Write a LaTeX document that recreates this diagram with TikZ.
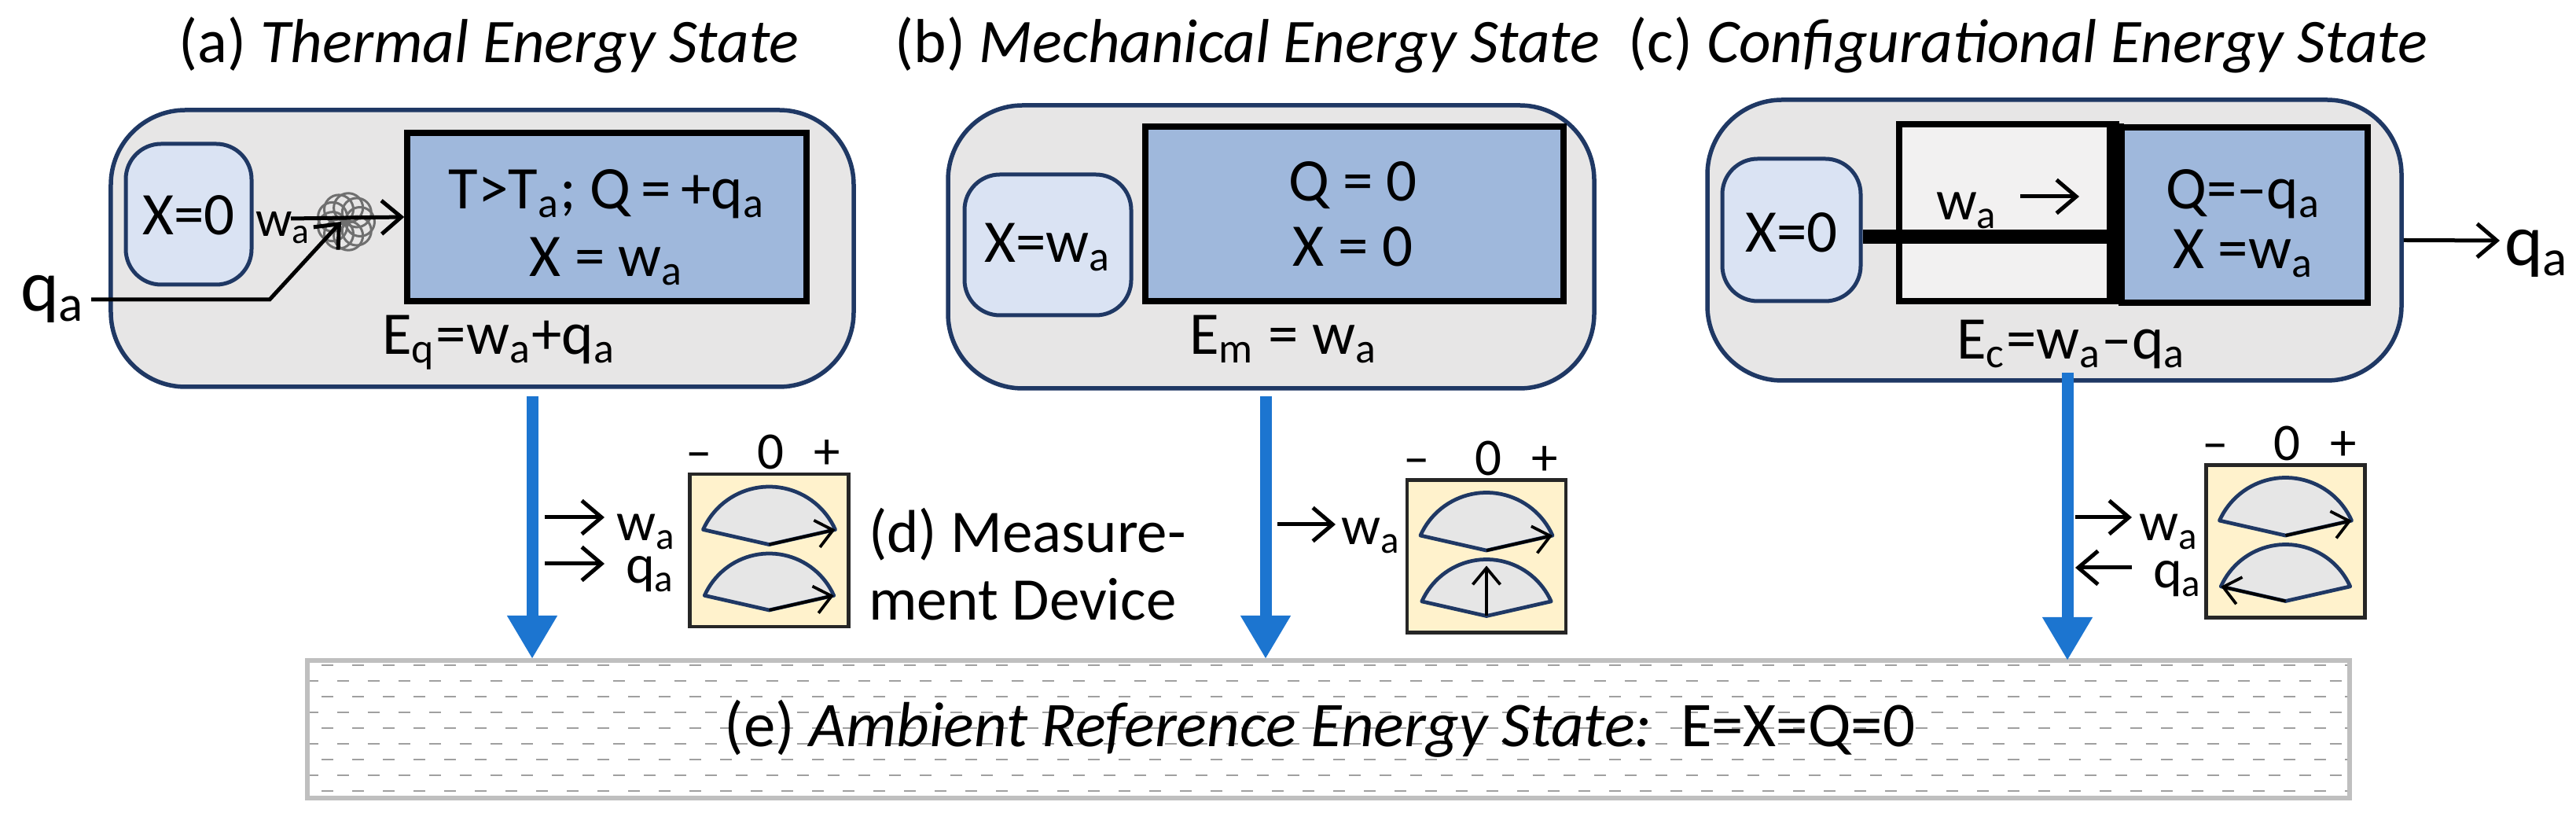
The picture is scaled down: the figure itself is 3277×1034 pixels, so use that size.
\documentclass[tikz,border=0pt]{standalone}
\usepackage{fontspec}
\setmainfont{Carlito}
\usetikzlibrary{arrows.meta}
\definecolor{navy}{HTML}{1F3864}
\definecolor{boxgray}{HTML}{E7E6E6}
\definecolor{lightblue}{HTML}{DAE3F3}
\definecolor{midblue}{HTML}{9FB8DC}
\definecolor{arrowblue}{HTML}{1C75D0}
\definecolor{gaugeyellow}{HTML}{FFF2CC}
\definecolor{gaugeborder}{HTML}{262626}
\definecolor{dialgray}{HTML}{E6E6E6}
\definecolor{bargray}{HTML}{BFBFBF}
\definecolor{dashgray}{HTML}{A0A0A0}
\definecolor{coilgray}{HTML}{6F6F6F}
\newcommand\lsub[1]{\textsubscript{#1}}
% fan-shaped dial: #1 name, #2 x, #3 arc-centre y, #4 radius
\newcommand\fan[4]{%
  \coordinate (#1-apex) at ({#2},{#3-0.2*#4});
  \coordinate (#1-right) at ({#2+0.9135*#4},{#3-0.4067*#4});
  \coordinate (#1-left) at ({#2-0.9135*#4},{#3-0.4067*#4});
  \coordinate (#1-top) at ({#2},{#3-#4+8});
  \draw[dialshape] (#1-apex) -- plot[domain=24:156,samples=40] ({#2+#4*cos(\x)},{#3-#4*sin(\x)}) -- cycle;
}
% gauge: #1 name, #2 x, #3 y (centre)
\newcommand\gauge[3]{%
  \node[gaugebox] (#1) at (#2,#3) {};
  \node[scalelabel] (#1-minus) at ({#2-89},{#3-103}) {–};
  \node[scalelabel] (#1-zero) at ({#2+2},{#3-103}) {0};
  \node[scalelabel] (#1-plus) at ({#2+74},{#3-103}) {+};
  \fan{#1-u}{#2}{#3+11}{92}
  \fan{#1-l}{#2}{#3+94}{90}
}
\begin{document}
\begin{tikzpicture}[x=0.2pt,y=-0.2pt,
  outerbox/.style={draw=navy,line width=1.1pt,fill=boxgray,rounded corners=19pt,inner sep=0pt},
  smallbox/.style={draw=navy,line width=1pt,fill=lightblue,rounded corners=9pt,inner sep=0pt},
  statebox/.style={draw=black,line width=1.5pt,fill=midblue,inner sep=0pt},
  cylbox/.style={draw=black,line width=1.5pt,fill=boxgray!55!white,inner sep=0pt},
  gaugebox/.style={draw=gaugeborder,line width=0.9pt,fill=gaugeyellow,minimum width=40.4pt,minimum height=38.8pt,inner sep=0pt},
  barbox/.style={draw=bargray,line width=1.1pt,fill=white,inner sep=0pt},
  titletext/.style={font=\fontsize{15.8pt}{18pt}\selectfont,anchor=base,inner sep=0pt},
  boxtext/.style={font=\fontsize{15.4pt}{17pt}\selectfont,anchor=base,inner sep=0pt},
  sidelabel/.style={font=\fontsize{14pt}{16pt}\selectfont,anchor=base west,inner sep=0pt},
  smalllabel/.style={font=\fontsize{13pt}{15pt}\selectfont,anchor=base west,inner sep=0pt},
  bigq/.style={font=\fontsize{18.6pt}{20pt}\selectfont,anchor=base west,inner sep=0pt},
  scalelabel/.style={font=\fontsize{13.4pt}{15pt}\selectfont,anchor=base,inner sep=0pt},
  dtext/.style={font=\fontsize{15.4pt}{17pt}\selectfont,anchor=base west,inner sep=0pt},
  etext/.style={font=\fontsize{16.2pt}{18pt}\selectfont,anchor=base,inner sep=0pt},
  flowarrow/.style={draw=arrowblue,line width=3pt,-{Triangle[width=12pt,length=11pt]}},
  thinarrow/.style={draw=black,line width=1pt,-{Straight Barb[length=5pt,width=8.5pt]}},
  pointer/.style={draw=black,line width=0.75pt,-{Straight Barb[length=4.2pt,width=7pt]}},
  dialshape/.style={draw=navy,line width=0.95pt,fill=dialgray,line join=round},
  dashrow/.style={draw=dashgray,line width=0.5pt,dash pattern=on 3pt off 4.8pt},
  coil/.style={draw=coilgray,line width=0.6pt}]
\useasboundingbox (0,0) rectangle (3277,1034);
\fill[white] (0,0) rectangle (3277,1034);

% titles
\node[titletext] (ta) at (622,80) {(a) \textit{Thermal Energy State}};
\node[titletext] (tb) at (1587,80) {(b) \textit{Mechanical Energy State}};
\node[titletext] (tc) at (2580,80) {(c) \textit{Configurational Energy State}};

% ---------- (a) thermal ----------
\node[outerbox,minimum width=189pt,minimum height=70.4pt] (ba) at (613.5,316) {};
\node[smallbox,minimum width=32pt,minimum height=35.8pt] (sa) at (240,272.5) {};
\node[statebox,minimum width=101.6pt,minimum height=42.8pt] (ra) at (772,276) {};
\node[boxtext] (xa) at (240,299) {X=0};
\node[boxtext] (ra1) at (772,266) {T>T\lsub{a}; Q\,=\,+q\lsub{a}};
\node[boxtext] (ra2) at (772,352) {X = w\lsub{a}};
\node[boxtext] (ea) at (635,451) {E\lsub{q}=w\lsub{a}+q\lsub{a}};
\node[smalllabel] (wla) at (324,301) {w\lsub{a}};
\node[bigq] (qal) at (25,396) {q\lsub{a}};
% coil
\coordinate (coilc) at (440,282);
\foreach \a in {0,40,...,320}
  \draw[coil] ({440+18*cos(\a)},{282+18*sin(\a)}) circle[radius=3.7pt];
\coordinate (wastart) at (370,278);
\draw[thinarrow] (wastart) -- (ra.west);
\coordinate (qastart) at (116,381);
\coordinate (qabend) at (343,381);
\coordinate (qaend) at (434,282);
\draw[thinarrow] (qastart) -- (qabend) -- (qaend);

% ---------- (b) mechanical ----------
\node[outerbox,minimum width=164.4pt,minimum height=72pt] (bb) at (1617,314) {};
\node[smallbox,minimum width=42.4pt,minimum height=35.8pt] (sb) at (1333,311.5) {};
\node[statebox,minimum width=106.4pt,minimum height=44.4pt] (rb) at (1723,272) {};
\node[boxtext] (xb) at (1333,334) {X=w\lsub{a}};
\node[boxtext] (rb1) at (1721,256) {Q = 0};
\node[boxtext] (rb2) at (1721,339) {X = 0};
\node[boxtext] (eb) at (1633,451) {E\lsub{m} = w\lsub{a}};

% ---------- (c) configurational ----------
\node[outerbox,minimum width=176.6pt,minimum height=71.4pt] (bc) at (2613.5,305.5) {};
\node[smallbox,minimum width=35.2pt,minimum height=36.2pt] (sc) at (2279,292.5) {};
\node[cylbox,minimum width=55.2pt,minimum height=45pt] (cyl) at (2554,270.5) {};
\node[statebox,minimum width=62.6pt,minimum height=44.6pt] (rc) at (2855.5,273.5) {};
\coordinate (walltop) at (2691,157);
\coordinate (wallbot) at (2691,387);
\draw[line width=4.4pt] (walltop) -- (wallbot);
\coordinate (rodend) at (2686,301);
\draw[line width=3.6pt] (sc.east |- rodend) -- (rodend);
\node[boxtext] (xc) at (2279,321) {X=0};
\node[boxtext] (rc1) at (2854,266) {Q=–q\lsub{a}};
\node[boxtext] (rc2) at (2854,342) {X =w\lsub{a}};
\node[boxtext] (ec) at (2635,457) {E\lsub{c}=w\lsub{a}–q\lsub{a}};
\node[sidelabel,font=\fontsize{14.5pt}{16pt}\selectfont] (wlc) at (2462,280) {w\lsub{a}};
\coordinate (cwas) at (2570,250);
\coordinate (cwae) at (2645,250);
\draw[thinarrow] (cwas) -- (cwae);
\coordinate (qcend) at (3180,306);
\draw[thinarrow] (bc.east) -- (qcend);
\node[bigq] (qcr) at (3185,338) {q\lsub{a}};

% ---------- (e) ambient bar ----------
\node[barbox,minimum width=519.6pt,minimum height=35pt] (bar) at (1690,927.5) {};
\begin{scope}
  \clip (394,843) rectangle (2986,1012);
  \foreach \k in {0,...,8}{
    \pgfmathsetmacro\yy{846+20*\k}
    \pgfmathsetmacro\xs{409-19.5*mod(\k,2)}
    \draw[dashrow] (\xs,\yy) -- (2990,\yy);
  }
\end{scope}
\node[etext] (elabel) at (1679,950) {(e) \textit{Ambient Reference Energy State:}\ \ E=X=Q=0};

% ---------- flow arrows ----------
\coordinate (fa1) at (677,504);  \coordinate (fa2) at (677,838);
\coordinate (fb1) at (1610,504); \coordinate (fb2) at (1610,838);
\coordinate (fc1) at (2630,474); \coordinate (fc2) at (2630,840);
\draw[flowarrow] (fa1) -- (fa2);
\draw[flowarrow] (fb1) -- (fb2);
\draw[flowarrow] (fc1) -- (fc2);

% ---------- (d) measurement devices ----------
\gauge{ga}{978.5}{700}
\gauge{gb}{1891}{707.5}
\gauge{gc}{2907.5}{688.5}
\draw[pointer] (ga-u-apex) -- (ga-u-right);
\draw[pointer] (ga-l-apex) -- (ga-l-right);
\draw[pointer] (gb-u-apex) -- (gb-u-right);
\draw[pointer] (gb-l-apex) -- (gb-l-top);
\draw[pointer] (gc-u-apex) -- (gc-u-right);
\draw[pointer] (gc-l-apex) -- (gc-l-left);

\coordinate (aw1) at (693,658); \coordinate (aw2) at (769,658);
\coordinate (aq1) at (693,717); \coordinate (aq2) at (769,717);
\draw[thinarrow] (aw1) -- (aw2);
\draw[thinarrow] (aq1) -- (aq2);
\node[sidelabel] (gawl) at (783,688) {w\lsub{a}};
\node[sidelabel] (gaql) at (795,742) {q\lsub{a}};

\coordinate (bw1) at (1625,667); \coordinate (bw2) at (1699,667);
\draw[thinarrow] (bw1) -- (bw2);
\node[sidelabel] (gbwl) at (1705,693) {w\lsub{a}};

\coordinate (cw1) at (2640,658); \coordinate (cw2) at (2712,658);
\coordinate (cq1) at (2712,722); \coordinate (cq2) at (2640,722);
\draw[thinarrow] (cw1) -- (cw2);
\draw[thinarrow] (cq1) -- (cq2);
\node[sidelabel] (gcwl) at (2720,688) {w\lsub{a}};
\node[sidelabel] (gcql) at (2738,748) {q\lsub{a}};

\node[dtext] (d1) at (1104,703) {(d) Measure-};
\node[dtext] (d2) at (1104,789) {ment Device};
\end{tikzpicture}
\end{document}
